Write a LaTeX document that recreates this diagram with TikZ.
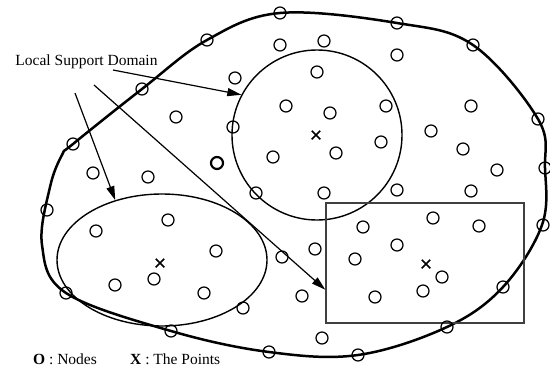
\documentclass[tikz,border=0pt]{standalone}
\usepackage{fontspec}
\setmainfont{Liberation Serif}
\usetikzlibrary{shapes.geometric,shapes.misc,arrows.meta}
\begin{document}
\begin{tikzpicture}[x=1pt,y=-1pt,
  nd/.style={circle,draw,line width=1.25pt,minimum size=12pt,inner sep=0pt},
  xmark/.style={cross out,draw,line width=1.5pt,minimum size=7pt,inner sep=0pt},
  dom/.style={draw,line width=1.4pt,inner sep=0pt},
  arr/.style={line width=1.2pt,-{Triangle[length=14pt,width=8pt]}},
  lbl/.style={font=\fontsize{15.5}{18}\selectfont,inner sep=0pt}]
\useasboundingbox (0,0) rectangle (550,367);
% outer boundary
\draw[line width=2.5pt] plot[smooth cycle,tension=0.6] coordinates {
 (73,144) (142,89) (207,40) (280,13) (397,23) (473,45) (538,119) (545,168)
 (542,225) (503,287) (447,327) (358,355) (269,352) (171,331) (66,293)
 (42,245) (50,187) (62,155)};
% support domains
\node[dom,circle,minimum size=170pt] (C) at (317,135) {};
\node[dom,ellipse,minimum width=210pt,minimum height=132pt] (E) at (162,260) {};
\node[dom,rectangle,draw=black!75,minimum width=198pt,minimum height=120pt] (R) at (425,263) {};
% boundary nodes
\foreach \p [count=\i] in {(207,40),(280,13),(397,23),(473,45),(538,119),(545,168),(543,225),(503,287),(447,327),(358,355),(269,352),(171,331),(66,293),(47,210),(73,144),(142,89)}
  \node[nd] (b\i) at \p {};
% interior nodes
\foreach \p [count=\i] in {(235,78),(176,117),(233,127),(280,45),(324,41),(397,55),(317,72),(286,106),(330,113),(386,106),(381,142),(336,153),(273,157),(148,177),(93,173),(471,106),(431,131),(463,149),(497,170),(471,191),(433,218),(479,226),(324,193),(256,193),(397,190),(96,231),(168,220),(216,251),(154,279),(115,285),(204,293),(243,308),(363,227),(397,245),(355,259),(442,277),(423,291),(375,297),(315,249),(282,257),(302,296),(322,338)}
  \node[nd] (n\i) at \p {};
\node[nd,line width=2.2pt] (nb) at (217,163) {};
% points
\node[xmark] (x1) at (316,135) {};
\node[xmark] (x2) at (160,263) {};
\node[xmark] (x3) at (426,264) {};
% label and arrows
\node[lbl] (L) at (86.5,62) {Local Support Domain};
\coordinate (s1) at (113,70);
\coordinate (s2) at (75,93);
\coordinate (s3) at (94,85);
\draw[arr] (s1) -- (C.152);
\draw[arr] (s2) -- (E.128);
\draw[arr] (s3) -- (R.195);
% legend
\node[lbl,anchor=west] (leg1) at (33,359) {\textbf{O} : Nodes};
\node[lbl,anchor=west] (leg2) at (130,359) {\textbf{X} : The Points};
\end{tikzpicture}
\end{document}
